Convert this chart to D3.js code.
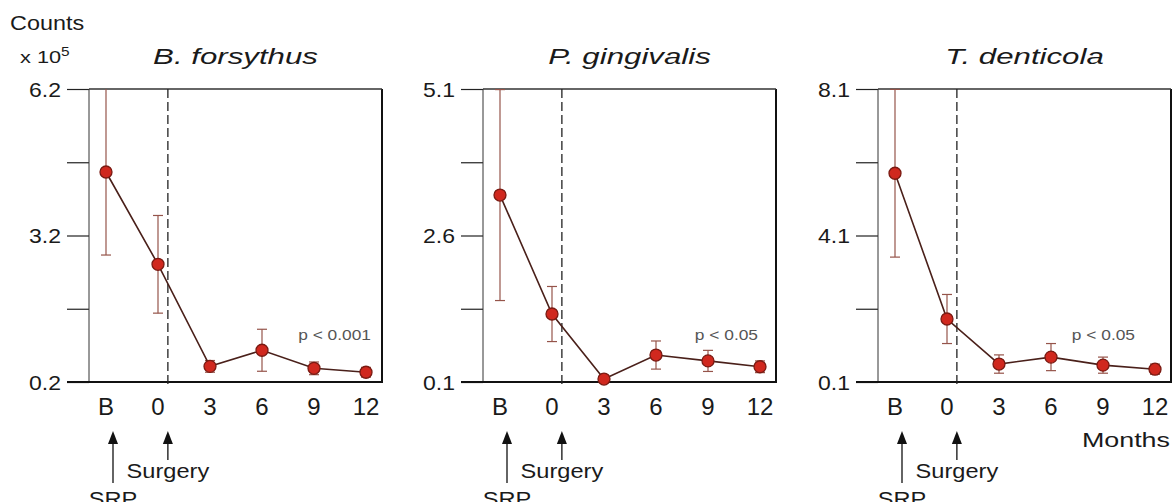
<!DOCTYPE html>
<html>
<head>
<meta charset="utf-8">
<script src="https://cdn.jsdelivr.net/npm/d3@7"></script>
<style>
  body { margin: 0; background: #fff; }
  svg { display: block; font-family: "Liberation Sans", Arial, sans-serif; }
</style>
</head>
<body>
<div id="chart"></div>
<script>
// ---- data ----
var months = ["B", "0", "3", "6", "9", "12"];
var species = ["B. forsythus", "P. gingivalis", "T. denticola"];
var yDomains = [[0.2, 6.2], [0.1, 5.1], [0.1, 8.1]];
var yTicks = [[0.2, 1.7, 3.2, 4.7, 6.2], [0.1, 1.35, 2.6, 3.85, 5.1], [0.1, 2.1, 4.1, 6.1, 8.1]];
var yTickLabels = [["0.2", "", "3.2", "", "6.2"], ["0.1", "", "2.6", "", "5.1"], ["0.1", "", "4.1", "", "8.1"]];
var meanBF = [4.50, 2.61, 0.52, 0.85, 0.48, 0.40];
var errBF = [1.70, 1.00, 0.12, 0.43, 0.13, 0.10];
var meanPG = [3.29, 1.26, 0.15, 0.56, 0.46, 0.36];
var errPG = [1.80, 0.47, 0.03, 0.24, 0.18, 0.10];
var meanTD = [5.80, 1.82, 0.59, 0.78, 0.56, 0.45];
var errTD = [2.29, 0.67, 0.25, 0.37, 0.22, 0.14];
var pLabels = ["p < 0.001", "p < 0.05", "p < 0.05"];

var means = [meanBF, meanPG, meanTD];
var errs = [errBF, errPG, errTD];

// ---- geometry ----
var W = 1172, H = 502;
var panelLeft = [89, 483, 878];
var panelW = 293;
var plotTop = 89, plotBottom = 382;
var pTextEnd = [371, 758, 1135];

var svg = d3.select("#chart").append("svg")
    .attr("width", W)
    .attr("height", H);

// text with horizontal stretch (the source figure is wide-set)
function label(g, x, y, str, size, sx, anchor, extra) {
  var t = g.append("text")
      .attr("transform", "translate(" + x + "," + y + ") scale(" + sx + ",1)")
      .attr("text-anchor", anchor)
      .style("font-size", size + "px")
      .attr("fill", "#1a1a1a")
      .text(str);
  if (extra) extra(t);
  return t;
}

function arrow(g, x, y1, y2) {
  g.append("line")
      .attr("x1", x).attr("x2", x)
      .attr("y1", y1 + 10).attr("y2", y2)
      .attr("stroke", "#111").attr("stroke-width", 1.3);
  g.append("path")
      .attr("d", "M" + x + "," + y1 + "L" + (x - 5) + "," + (y1 + 13) + "L" + (x + 5) + "," + (y1 + 13) + "Z")
      .attr("fill", "#111");
}

// "Counts x 10^5"
label(svg, 10, 30, "Counts", 20, 1.17, "start");
label(svg, 20, 63, "x 10", 17, 1.28, "start", function(t) {
  t.append("tspan").attr("dy", -7).style("font-size", "12px").text("5");
});

species.forEach(function(name, i) {
  var left = panelLeft[i];
  var g = svg.append("g").attr("transform", "translate(" + left + ",0)");

  var x = d3.scalePoint().domain(months).range([17, panelW - 16]);
  var y = d3.scaleLinear().domain(yDomains[i]).range([plotBottom, plotTop]).clamp(true);

  // title
  label(g, panelW / 2, 64, name, 22, 1.42, "middle", function(t) {
    t.style("font-style", "italic");
  });

  // y axis with long outer ticks
  var yAxis = d3.axisLeft(y)
      .tickValues(yTicks[i])
      .tickFormat(function(d, k) { return yTickLabels[i][k]; })
      .tickSize(22)
      .tickPadding(6);
  var ya = g.append("g").call(yAxis);
  ya.select(".domain").remove();
  ya.selectAll(".tick line").attr("stroke", "#222").attr("stroke-width", 1.2);
  ya.selectAll(".tick text")
      .attr("font-family", null)
      .attr("font-size", null)
      .style("font-size", "20px")
      .attr("fill", "#1a1a1a")
      .attr("dy", "0.36em")
      .attr("transform", "translate(-28,0) scale(1.15,1) translate(28,0)");

  // frame
  g.append("line").attr("x1", 0).attr("x2", 0).attr("y1", plotTop).attr("y2", plotBottom)
      .attr("stroke", "#333").attr("stroke-width", 1);
  g.append("line").attr("x1", panelW).attr("x2", panelW).attr("y1", plotTop).attr("y2", plotBottom)
      .attr("stroke", "#111").attr("stroke-width", 2);
  g.append("line").attr("x1", 0).attr("x2", panelW).attr("y1", plotTop).attr("y2", plotTop)
      .attr("stroke", "#333").attr("stroke-width", 1.3);
  g.append("line").attr("x1", -22).attr("x2", panelW + 1).attr("y1", plotBottom).attr("y2", plotBottom)
      .attr("stroke", "#111").attr("stroke-width", 2);

  // surgery dashed line
  var xSurg = x("0") + x.step() * 0.19;
  g.append("line")
      .attr("x1", xSurg).attr("x2", xSurg)
      .attr("y1", plotTop).attr("y2", plotBottom + 2)
      .attr("stroke", "#222").attr("stroke-width", 1.3)
      .attr("stroke-dasharray", "9,4");

  // x labels
  g.selectAll(".xl").data(months).enter().append("text")
      .attr("class", "xl")
      .attr("x", function(d) { return x(d); })
      .attr("y", 415)
      .attr("text-anchor", "middle")
      .style("font-size", "24px")
      .attr("fill", "#1a1a1a")
      .text(function(d) { return d; });

  var pts = months.map(function(m, k) {
    return { m: m, v: means[i][k], e: errs[i][k] };
  });

  // error bars
  var ebColor = "#95544a";
  var eb = g.selectAll(".eb").data(pts).enter().append("g").attr("class", "eb");
  eb.append("line")
      .attr("x1", function(d) { return x(d.m); })
      .attr("x2", function(d) { return x(d.m); })
      .attr("y1", function(d) { return y(d.v + d.e); })
      .attr("y2", function(d) { return y(d.v - d.e); })
      .attr("stroke", ebColor).attr("stroke-width", 1.2);
  eb.filter(function(d) { return d.v + d.e < yDomains[i][1]; }).append("line")
      .attr("x1", function(d) { return x(d.m) - 5; })
      .attr("x2", function(d) { return x(d.m) + 5; })
      .attr("y1", function(d) { return y(d.v + d.e); })
      .attr("y2", function(d) { return y(d.v + d.e); })
      .attr("stroke", ebColor).attr("stroke-width", 1.2);
  eb.append("line")
      .attr("x1", function(d) { return x(d.m) - 5; })
      .attr("x2", function(d) { return x(d.m) + 5; })
      .attr("y1", function(d) { return y(d.v - d.e); })
      .attr("y2", function(d) { return y(d.v - d.e); })
      .attr("stroke", ebColor).attr("stroke-width", 1.2);

  // mean line
  g.append("path")
      .datum(pts)
      .attr("d", d3.line().x(function(d) { return x(d.m); }).y(function(d) { return y(d.v); }))
      .attr("fill", "none")
      .attr("stroke", "#4a201a")
      .attr("stroke-width", 1.6);

  g.selectAll(".pt").data(pts).enter().append("circle")
      .attr("class", "pt")
      .attr("cx", function(d) { return x(d.m); })
      .attr("cy", function(d) { return y(d.v); })
      .attr("r", 6)
      .attr("fill", "#d0281e")
      .attr("stroke", "#7a1a12")
      .attr("stroke-width", 1.3);

  // p value
  label(g, pTextEnd[i] - left, 340, pLabels[i], 14, 1.24, "end", function(t) {
    t.attr("fill", "#555");
  });

  // SRP / Surgery arrows
  var xB = x("B") + 7;
  arrow(g, xB, 431, 483);
  arrow(g, xSurg, 431, 460);
  label(g, xSurg, 478, "Surgery", 20, 1.18, "middle");
  label(g, xB, 506, "SRP", 20, 1.18, "middle");
});

label(svg, 1170, 447, "Months", 21, 1.28, "end");
</script>
</body>
</html>
